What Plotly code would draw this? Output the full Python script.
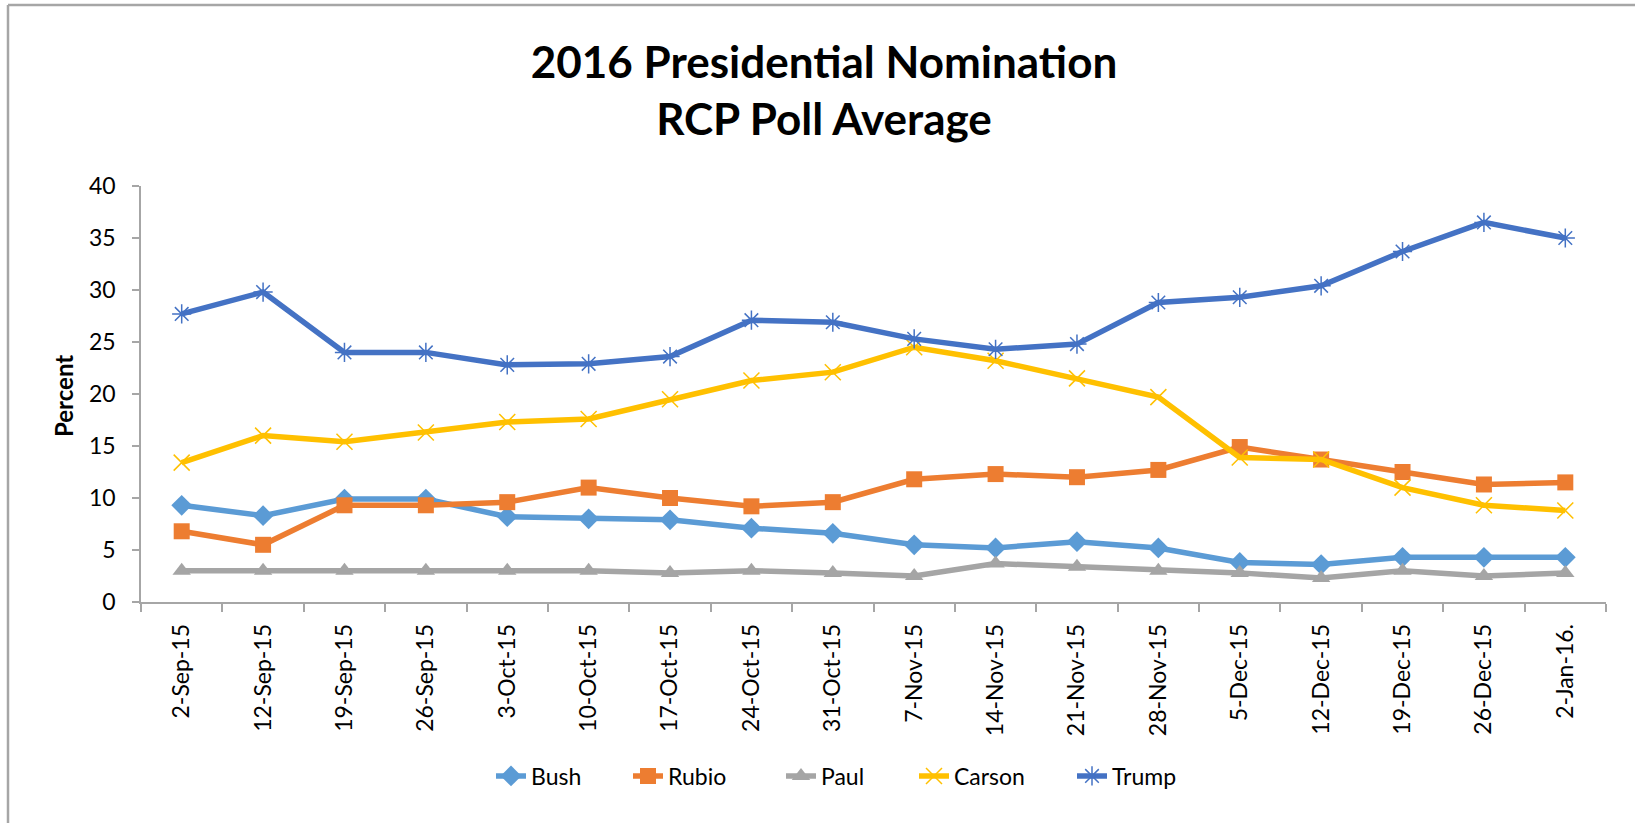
import plotly.graph_objects as go

dates = ["2-Sep-15", "12-Sep-15", "19-Sep-15", "26-Sep-15", "3-Oct-15", "10-Oct-15",
         "17-Oct-15", "24-Oct-15", "31-Oct-15", "7-Nov-15", "14-Nov-15", "21-Nov-15",
         "28-Nov-15", "5-Dec-15", "12-Dec-15", "19-Dec-15", "26-Dec-15", "2-Jan-16."]

bush = [9.3, 8.3, 9.9, 9.9, 8.2, 8.0, 7.9, 7.1, 6.6, 5.5, 5.2, 5.8, 5.2, 3.8, 3.6, 4.3, 4.3, 4.3]
rubio = [6.8, 5.5, 9.3, 9.3, 9.6, 11.0, 10.0, 9.2, 9.6, 11.8, 12.3, 12.0, 12.7, 14.9, 13.7, 12.5, 11.3, 11.5]
paul = [3.0, 3.0, 3.0, 3.0, 3.0, 3.0, 2.8, 3.0, 2.8, 2.5, 3.7, 3.4, 3.0, 2.8, 2.3, 3.0, 2.5, 2.8]
carson = [13.4, 16.0, 15.4, 16.3, 17.3, 17.6, 19.5, 21.3, 22.1, 24.5, 23.2, 21.5, 19.7, 13.9, 13.7, 11.0, 9.3, 8.8]
trump = [27.7, 29.8, 24.0, 24.0, 22.8, 22.9, 23.6, 27.1, 26.9, 25.3, 24.3, 24.8, 28.8, 29.3, 30.4, 33.7, 36.5, 35.0]

yticks = [0, 5, 10, 15, 20, 25, 30, 35, 40]

FONT = "Lato, 'Open Sans', sans-serif"

series = [
    ("Bush", bush, "#5B9BD5", dict(symbol="diamond", size=16), 92),
    ("Rubio", rubio, "#ED7D31", dict(symbol="square", size=16), 108),
    ("Paul", paul, "#A5A5A5", dict(symbol="triangle-up", size=16), 88),
    ("Carson", carson, "#FFC000", dict(symbol="x-thin-open", size=16, line=dict(width=1.5)), 113),
    ("Trump", trump, "#4472C4", dict(symbol="asterisk-open", size=16, line=dict(width=1.5)), 80),
]

fig = go.Figure()
for name, vals, color, mk, lw in series:
    m = dict(color=color, **mk)
    if "line" in m:
        m["line"]["color"] = color
    fig.add_trace(go.Scatter(x=dates, y=vals, name=name, mode="lines+markers",
                             line=dict(color=color, width=5.5), marker=m, legendwidth=lw))

W, H = 1635, 823
L, R, T, B = 141, 29, 186, 221
pw, ph = W - L - R, H - T - B

def px(xp):
    return (xp - L) / pw

def py(yp):
    return (H - B - yp) / ph

fig.update_layout(
    width=W, height=H,
    margin=dict(l=L, r=R, t=T, b=B),
    paper_bgcolor="white", plot_bgcolor="white",
    font=dict(family=FONT, color="#000000", size=23),
    title=dict(text="<b>2016 Presidential Nomination<br>RCP Poll Average</b>",
               x=824 / W, xanchor="center", xref="container",
               y=1 - 78 / H, yanchor="middle", yref="container",
               font=dict(family=FONT, size=44, color="#000000")),
    showlegend=True,
    legend=dict(orientation="h", x=px(491), xanchor="left", y=py(776), yanchor="middle",
                font=dict(family=FONT, size=23, color="#000000"),
                bgcolor="rgba(0,0,0,0)"),
    xaxis=dict(type="category", showgrid=False, showline=True, linecolor="#A6A6A6", linewidth=1.5,
               ticks="outside", tickson="boundaries", ticklen=8, tickcolor="#A6A6A6", tickwidth=1.5,
               tickangle=-90, tickfont=dict(family=FONT, size=23, color="#000000"),
               ticklabelstandoff=11, range=[-0.5, len(dates) - 0.5]),
    yaxis=dict(range=[0, 40], tickvals=yticks, showgrid=False, showline=True, linecolor="#A6A6A6",
               linewidth=1.5, ticks="outside", ticklen=7, tickcolor="#A6A6A6", tickwidth=1.5,
               tickfont=dict(family=FONT, size=23, color="#000000"), zeroline=False,
               ticklabelstandoff=12),
    annotations=[dict(text="<b>Percent</b>", textangle=-90, xref="paper", yref="paper",
                      x=px(63), y=py(396), xanchor="center", yanchor="middle", showarrow=False,
                      font=dict(family=FONT, size=24, color="#000000"))],
    shapes=[
        dict(type="line", xref="paper", yref="paper", x0=px(8), x1=px(W), y0=py(5), y1=py(5),
             line=dict(color="#A6A6A6", width=2.5)),
        dict(type="line", xref="paper", yref="paper", x0=px(8), x1=px(8), y0=py(5), y1=py(H),
             line=dict(color="#A6A6A6", width=2.5)),
    ],
)

fig.write_html("out.html", config={"displayModeBar": False},
               post_script="document.body.style.margin='0px';document.body.style.overflow='hidden';")
